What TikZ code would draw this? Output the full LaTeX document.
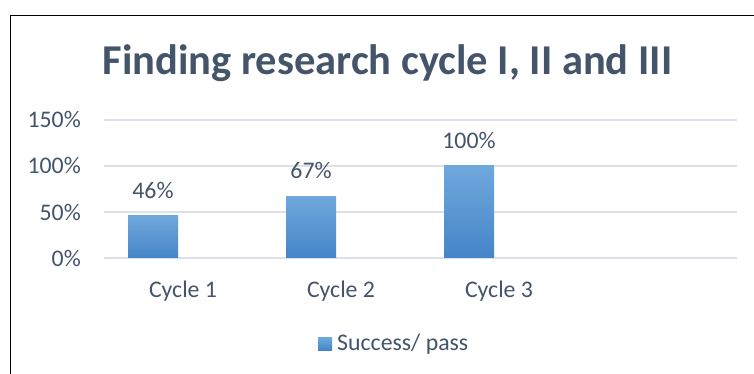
\documentclass[tikz,border=0pt]{standalone}
\usepackage{fontspec}
\setmainfont{Carlito}
\definecolor{txt}{HTML}{44546A}
\definecolor{gridc}{HTML}{DCE1E8}
\definecolor{bartop}{HTML}{6FA8DC}
\definecolor{barbot}{HTML}{4585C8}
\tikzset{
  gridline/.style={draw=gridc, line width=1.3pt},
  ticklbl/.style={anchor=base east, inner sep=0pt, text=txt, font=\fontsize{23.8}{26}\selectfont},
  datalbl/.style={anchor=base, inner sep=0pt, text=txt, font=\fontsize{23.8}{26}\selectfont},
  catlbl/.style={anchor=base, inner sep=0pt, text=txt, font=\fontsize{23.8}{26}\selectfont},
  barbox/.style={anchor=south, inner sep=0pt, minimum width=50pt, draw=none, top color=bartop, bottom color=barbot},
  titlelbl/.style={anchor=base, inner sep=0pt, text=txt, font=\fontsize{42.5}{46}\selectfont\bfseries},
  frame/.style={draw=black, line width=1.5pt}
}
\begin{document}
\begin{tikzpicture}[x=1pt,y=-1pt]
\useasboundingbox[fill=white] (0,0) rectangle (754,374);
% frame
\coordinate (fbl) at (10.5,374);
\coordinate (ftl) at (10.5,15.5);
\coordinate (ftr) at (754,15.5);
\draw[frame] (fbl) -- (ftl) -- (ftr);
% title
\node[titlelbl] (title) at (387.5,75) {Finding research cycle I, II and III};
% grid
\foreach \yy/\nm in {120/g150,166/g100,212/g50,258/g0}{
  \coordinate (\nm l) at (104,\yy);
  \coordinate (\nm r) at (737,\yy);
  \draw[gridline] (\nm l) -- (\nm r);
}
% tick labels
\node[ticklbl] (t150) at (81,128) {150\%};
\node[ticklbl] (t100) at (81,174) {100\%};
\node[ticklbl] (t50) at (81,220) {50\%};
\node[ticklbl] (t0) at (81,266) {0\%};
% bars
\node[barbox, minimum height=42.3pt] (b1) at (153,258) {};
\node[barbox, minimum height=61.6pt] (b2) at (311,258) {};
\node[barbox, minimum height=92pt] (b3) at (469,258) {};
% data labels
\node[datalbl] (d1) at (153,198) {46\%};
\node[datalbl] (d2) at (311,178.7) {67\%};
\node[datalbl] (d3) at (469,148.3) {100\%};
% category labels
\node[catlbl] (c1) at (183,297) {Cycle 1};
\node[catlbl] (c2) at (341,297) {Cycle 2};
\node[catlbl] (c3) at (499,297) {Cycle 3};
% legend
\node[anchor=north west, inner sep=0pt, minimum width=14pt, minimum height=13pt, top color=bartop, bottom color=barbot] (legsq) at (318,337) {};
\node[anchor=base west, inner sep=0pt, text=txt, font=\fontsize{23.8}{26}\selectfont] (legtxt) at (337,350) {Success/ pass};
\end{tikzpicture}
\end{document}
